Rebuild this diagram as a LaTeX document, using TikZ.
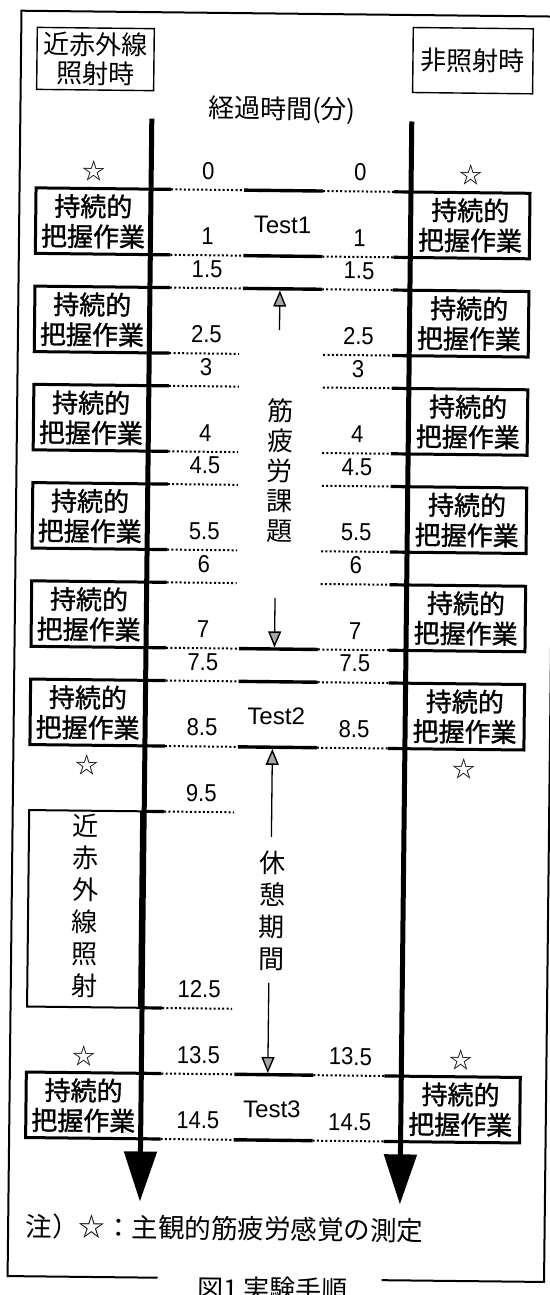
\documentclass[tikz,border=0pt]{standalone}
\usepackage{fontspec}
\setmainfont{Liberation Sans}
\newfontfamily\jp{Noto Sans CJK JP}
\newfontfamily\jpb[FakeBold=1.2]{Noto Sans CJK JP}
\newfontfamily\numf[FakeStretch=0.9]{Liberation Sans}
\usetikzlibrary{arrows.meta}
\begin{document}
\begin{tikzpicture}[x=1pt,y=-1pt,
  jbox/.style={draw, line width=3pt, inner sep=0pt, outer sep=0pt, align=center,
    font=\jpb\fontsize{26}{30}\selectfont},
  hbox/.style={draw, line width=1.4pt, inner sep=0pt, outer sep=0pt, align=center,
    font=\jp\fontsize{26}{29}\selectfont},
  jtext/.style={inner sep=0pt, align=center, font=\jp\fontsize{26}{30}\selectfont},
  vtext/.style={inner sep=0pt, align=center, font=\jp\fontsize{26}{32}\selectfont},
  numlab/.style={inner sep=0pt, font=\numf\fontsize{24.5}{24.5}\selectfont},
  testlab/.style={inner sep=0pt, font=\fontsize{24}{24}\selectfont},
  starlab/.style={inner sep=0pt, font=\jp\fontsize{23}{23}\selectfont},
  dotline/.style={line width=2pt, dash pattern=on 2pt off 2.3pt},
  stubline/.style={line width=3.2pt},
  segline/.style={line width=3.4pt},
  axisline/.style={line width=5pt, -{Triangle[length=50pt,width=32pt]}},
  smallarrow/.style={line width=1.3pt, -{Triangle[length=16pt,width=13pt,fill=black!35,line width=1.4pt]}},
  frameline/.style={line width=2pt},
]
\fill[white] (0,0) rectangle (549,1295);
\useasboundingbox (0,0) rectangle (549,1295);
\begin{scope}[rotate around={-0.63:(274.5,647.5)}, transform shape]

% outer frame
\coordinate (fbl) at (164.5,1279);
\coordinate (fbl2) at (14.5,1279);
\coordinate (ftl) at (14.5,13.5);
\coordinate (ftr) at (560,13.5);
\coordinate (fbr1) at (388.5,1279);
\coordinate (fbr2) at (551,1279);
\coordinate (fbr3) at (551,13.5);
\draw[frameline] (fbl) -- (fbl2) -- (ftl) -- (ftr);
\draw[frameline] (fbr1) -- (fbr2) -- (fbr3);

% headers
\node[hbox, minimum width=117pt, minimum height=62pt] (hl) at (89,61) {近赤外線\\照射時};
\node[hbox, minimum width=120pt, minimum height=65pt] (hr) at (466.5,58.5) {非照射時};
\node[jtext] (elapsed) at (276,110) {経過時間(分)};

% task boxes
\foreach \t [count=\j] in {0,1.5,3,4.5,6,7.5,13.5}{
  \pgfmathsetmacro{\yc}{190.5+65.5*(\t+0.5)}
  \node[jbox, minimum width=115pt, minimum height=65.5pt] (L\j) at (88.5,\yc) {持続的\\把握作業};
  \node[jbox, minimum width=119pt, minimum height=65.5pt] (R\j) at (465.5,\yc) {持続的\\把握作業};
}

% irradiation box
\node[draw, line width=2pt, minimum width=112pt, minimum height=196.5pt, inner sep=0pt] (irbox) at (87,911) {};
\node[vtext] (irtext) at (88,907.5) {近\\赤\\外\\線\\照\\射};

% time rows
\foreach \t/\lab/\k [count=\i] in {0/0/f, 1/1/f, 1.5/1.5/f, 2.5/2.5/g, 3/3/g, 4/4/g, 4.5/4.5/g, 5.5/5.5/g, 6/6/g, 7/7/f, 7.5/7.5/f, 8.5/8.5/f, 9.5/9.5/l, 12.5/12.5/l, 13.5/13.5/f, 14.5/14.5/f}{
  \pgfmathsetmacro{\yy}{190.5+65.5*\t}
  \coordinate (ra\i) at (146,\yy);
  \coordinate (rb\i) at (166,\yy);
  \coordinate (rc\i) at (236,\yy);
  \coordinate (rd\i) at (239,\yy);
  \coordinate (re\i) at (318,\yy);
  \coordinate (rf\i) at (320,\yy);
  \coordinate (rg\i) at (389,\yy);
  \coordinate (rh\i) at (406,\yy);
  \draw[stubline] (ra\i) -- (rb\i);
  \node[numlab] (nl\i) at (203,\yy-19) {\lab};
  \if l\k
    \draw[dotline] (rb\i) -- (rc\i);
  \else
    \node[numlab] (nr\i) at (355,\yy-19) {\lab};
    \draw[stubline] (rg\i) -- (rh\i);
    \if g\k
      \draw[dotline] (rb\i) -- (rc\i);
      \draw[dotline] (rf\i) -- (rg\i);
    \else
      \draw[dotline] (rb\i) -- (rd\i);
      \draw[segline] (rd\i) -- (re\i);
      \draw[dotline] (re\i) -- (rg\i);
    \fi
  \fi
}

% test labels
\node[testlab] (t1) at (278,225) {Test1};
\node[testlab] (t2) at (277,716.5) {Test2};
\node[testlab] (t3) at (277,1109.5) {Test3};

% stars
\node[starlab] (s1) at (88.5,173) {☆};
\node[starlab] (s2) at (465.5,173) {☆};
\node[starlab] (s3) at (88.5,767) {☆};
\node[starlab] (s4) at (465.5,767) {☆};
\node[starlab] (s5) at (88.5,1058) {☆};
\node[starlab] (s6) at (465.5,1058) {☆};

% fatigue task
\node[jtext] (fat) at (278,471) {筋\\疲\\労\\課\\題};
\coordinate (u1s) at (276,330);
\coordinate (u1e) at (276,290.5);
\draw[smallarrow] (u1s) -- (u1e);
\coordinate (d1s) at (274.5,598);
\coordinate (d1e) at (274.5,647.4);
\draw[smallarrow] (d1s) -- (d1e);

% rest period
\node[vtext] (rest) at (275,911) {休\\憩\\期\\間};
\coordinate (u2s) at (273.5,837);
\coordinate (u2e) at (273.5,748.9);
\draw[smallarrow] (u2s) -- (u2e);
\coordinate (d2s) at (272.5,983);
\coordinate (d2e) at (272.5,1073.1);
\draw[smallarrow] (d2s) -- (d2e);

% time axes
\coordinate (lat) at (146,120);
\coordinate (lab) at (146,1203);
\coordinate (rat) at (406,120);
\coordinate (rab) at (406,1203);
\draw[axisline] (lat) -- (lab);
\draw[axisline] (rat) -- (rab);

% note and caption
\node[anchor=west, inner sep=0pt, font=\jp\fontsize{26.5}{26.5}\selectfont] (note) at (32,1229) {注）☆：主観的筋疲労感覚の測定};
\node[inner sep=0pt, font=\jp\fontsize{26}{26}\selectfont] (cap) at (280,1289) {図1 実験手順};
\end{scope}
\end{tikzpicture}
\end{document}
